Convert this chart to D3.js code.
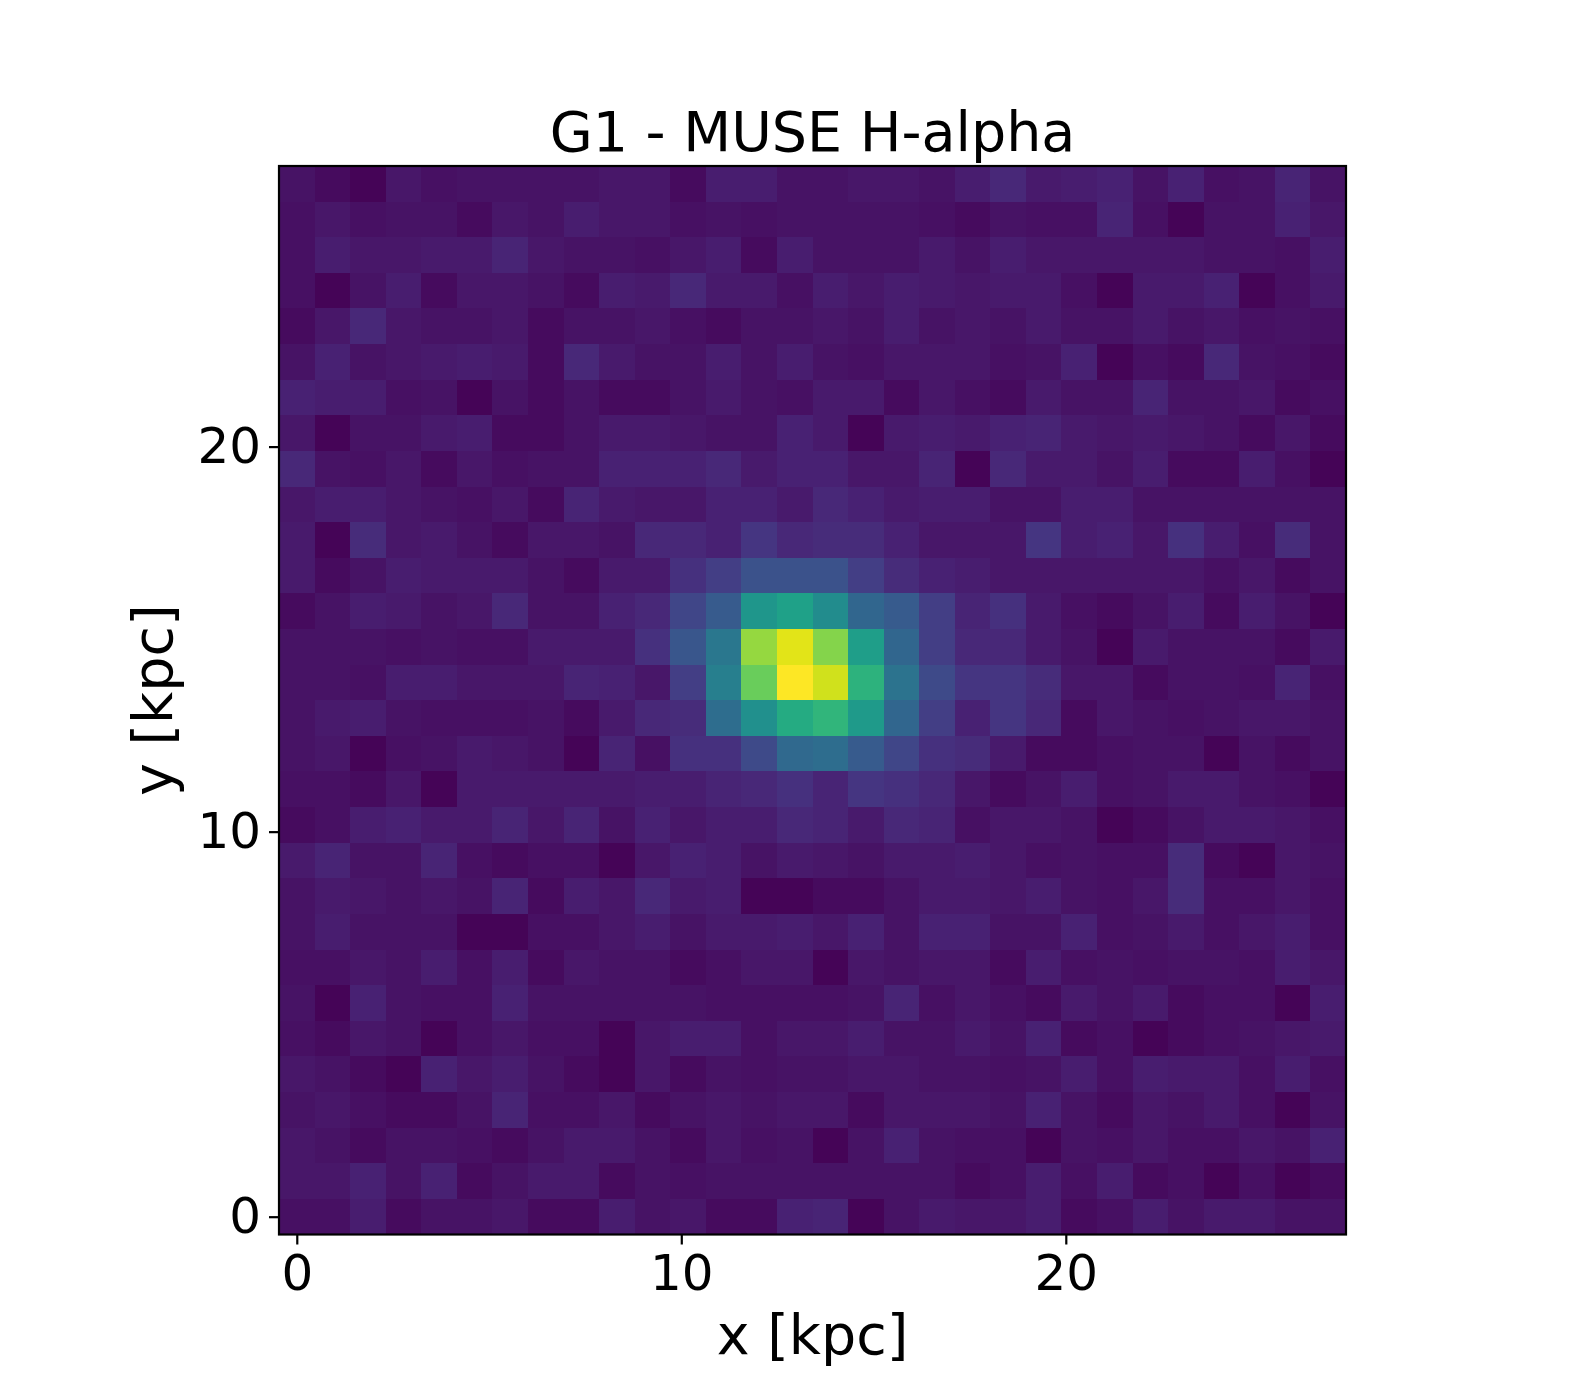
<!DOCTYPE html>
<html><head><meta charset="utf-8">
<script src="https://cdn.jsdelivr.net/npm/d3@7/dist/d3.min.js"></script>
<style>html,body{margin:0;padding:0;background:#fff}svg{display:block}text{font-family:"DejaVu Sans";fill:#000}</style>
</head><body><svg id="c" width="1586" height="1386"></svg>
<script>
const chartTitle = "G1 - MUSE H-alpha";
const xLabel = "x [kpc]";
const yLabel = "y [kpc]";
const xTicks = [0,10,20];
const yTicks = [0,10,20];
const kpcPerPixel = 0.925;
// flux, top row first (highest y), left to right
const flux = [
[3,1,0,4,2,3,3,3,3,4,4,1,6,6,3,3,4,4,3,6,9,5,6,7,3,7,2,3,8,3],
[2,4,2,3,3,1,4,3,6,4,4,2,3,2,3,3,3,3,2,1,3,2,2,8,2,0,3,3,7,4],
[2,6,4,4,5,5,8,4,3,3,2,4,6,1,6,3,3,3,5,3,6,4,4,4,4,4,3,3,2,6],
[2,0,3,6,1,4,4,3,1,6,5,9,5,5,2,6,4,6,5,4,5,5,2,0,5,5,7,0,2,5],
[1,4,9,4,3,3,4,1,3,3,4,2,1,3,3,4,3,6,3,4,3,5,3,3,5,3,4,2,3,2],
[3,7,3,4,5,6,5,1,9,5,3,3,6,3,6,3,2,4,4,4,2,3,7,0,2,1,9,3,2,1],
[7,6,6,2,3,0,3,1,3,1,1,3,5,3,2,5,5,1,4,2,1,5,3,3,8,3,3,4,1,2],
[4,0,3,3,5,6,1,1,3,5,5,4,3,3,7,5,0,5,6,5,7,8,5,4,5,4,3,1,4,1],
[9,3,2,4,1,4,2,3,3,7,7,7,9,5,7,7,4,4,8,0,9,5,5,3,6,1,1,6,2,0],
[4,6,6,4,3,2,4,1,8,5,4,4,7,7,5,9,7,5,6,6,3,3,6,6,3,3,3,3,3,3],
[5,0,10,4,5,3,1,4,4,3,9,9,7,12,9,10,10,7,4,4,4,12,6,7,4,11,6,2,10,3],
[5,1,3,6,5,5,5,3,1,5,5,11,14,19,19,19,14,10,7,6,4,4,4,4,4,4,2,4,1,3],
[1,3,6,5,3,4,9,3,3,7,9,16,21,38,41,35,24,21,14,8,11,5,2,1,3,6,1,6,3,0],
[3,3,3,2,3,2,2,5,5,5,11,20,29,60,68,58,40,24,14,9,9,5,3,0,5,3,3,3,1,5],
[3,3,2,6,6,4,4,4,8,7,4,14,31,55,71,66,46,28,17,12,12,10,4,4,1,3,3,2,8,2],
[3,5,6,3,2,2,2,3,1,5,9,10,26,36,44,47,39,24,14,7,12,9,1,4,3,2,3,4,4,3],
[3,4,0,2,3,5,4,3,0,8,2,11,11,17,25,26,21,16,11,10,5,1,1,2,3,3,0,3,1,3],
[2,2,1,4,0,5,5,5,5,5,6,6,8,9,11,8,12,11,9,4,1,3,6,2,3,5,5,3,2,0],
[1,2,6,7,5,5,8,4,8,3,7,4,6,6,9,8,5,9,8,2,4,4,3,0,1,3,5,5,4,2],
[5,8,3,3,8,2,1,2,2,0,4,7,6,3,5,4,3,5,5,6,4,2,3,2,2,10,1,0,4,3],
[3,5,4,3,4,3,8,1,6,4,9,5,6,0,0,1,1,3,5,5,4,6,3,2,4,10,2,2,4,2],
[3,6,3,3,3,0,0,2,2,4,6,3,5,5,6,4,7,3,7,7,3,3,7,2,3,5,2,4,6,2],
[2,2,4,3,6,2,6,1,4,3,3,1,2,4,4,0,4,3,4,4,1,6,2,3,2,3,3,2,6,4],
[3,0,7,3,2,2,7,3,3,3,3,3,2,2,2,2,3,8,2,4,2,1,5,3,5,1,2,2,0,6],
[2,1,4,3,0,2,4,2,2,0,4,6,6,2,4,4,6,3,3,5,3,7,1,2,0,1,2,3,4,5],
[4,3,1,0,7,4,6,3,1,0,4,1,3,2,3,3,4,4,3,3,2,3,6,2,6,5,5,2,6,2],
[3,4,2,1,1,3,8,2,2,4,1,3,4,3,4,4,1,4,4,4,3,7,3,1,4,3,5,2,0,3],
[4,3,1,3,3,2,1,3,5,5,3,1,4,2,3,0,3,7,3,2,2,0,3,2,4,2,2,4,3,7],
[4,4,7,3,7,1,3,5,5,1,3,2,3,3,3,3,3,3,3,1,2,6,2,6,1,2,0,2,0,1],
[2,2,6,1,3,3,4,1,1,6,3,4,1,1,7,8,0,3,5,4,4,6,1,2,6,3,5,5,3,3]
];
const normStops = [0,1,9,71];
const normValues = [0.008,0.03,0.11,1];

const axL=279, axR=1346, axT=166, axB=1234.5;
const nRows=flux.length, nCols=flux[0].length;
const half=kpcPerPixel/2;
const x=d3.scaleLinear().domain([-half,(nCols-1)*kpcPerPixel+half]).range([axL,axR]);
const y=d3.scaleLinear().domain([-half,(nRows-1)*kpcPerPixel+half]).range([axB,axT]);
const norm=d3.scaleLinear().domain(normStops).range(normValues);
const color=v=>d3.interpolateViridis(norm(v));
const svg=d3.select("#c");
const cells=flux.flatMap((row,r)=>row.map((v,c)=>({c,r:nRows-1-r,v})));
svg.append("g").attr("shape-rendering","crispEdges").selectAll("rect").data(cells).join("rect")
 .attr("x",d=>x((d.c-.5)*kpcPerPixel))
 .attr("y",d=>y((d.r+.5)*kpcPerPixel))
 .attr("width",d=>x((d.c+.5)*kpcPerPixel)-x((d.c-.5)*kpcPerPixel))
 .attr("height",d=>y((d.r-.5)*kpcPerPixel)-y((d.r+.5)*kpcPerPixel))
 .attr("fill",d=>color(d.v));
const sty=g=>{g.selectAll("path").remove();g.selectAll("line").attr("stroke","#000").attr("stroke-width",2.2);g.selectAll("text").attr("font-size",50).attr("fill","#000");};
svg.append("g").attr("transform",`translate(0,${axB})`)
 .call(d3.axisBottom(x).tickValues(xTicks).tickSize(10).tickPadding(10).tickFormat(d3.format("d"))).call(sty);
svg.append("g").attr("transform",`translate(${axL},0)`)
 .call(d3.axisLeft(y).tickValues(yTicks).tickSize(10).tickPadding(8).tickFormat(d3.format("d"))).call(sty);
svg.append("rect").attr("x",axL).attr("y",axT).attr("width",axR-axL).attr("height",axB-axT)
 .attr("fill","none").attr("stroke","#000").attr("stroke-width",2.2);
svg.append("text").attr("x",(axL+axR)/2).attr("y",151).attr("text-anchor","middle").attr("font-size",55.5).text(chartTitle);
svg.append("text").attr("x",(axL+axR)/2).attr("y",1354).attr("text-anchor","middle").attr("font-size",55.5).text(xLabel);
svg.append("text").attr("transform",`translate(172,${(axT+axB)/2}) rotate(-90)`).attr("text-anchor","middle").attr("font-size",55.5).text(yLabel);
</script></body></html>
